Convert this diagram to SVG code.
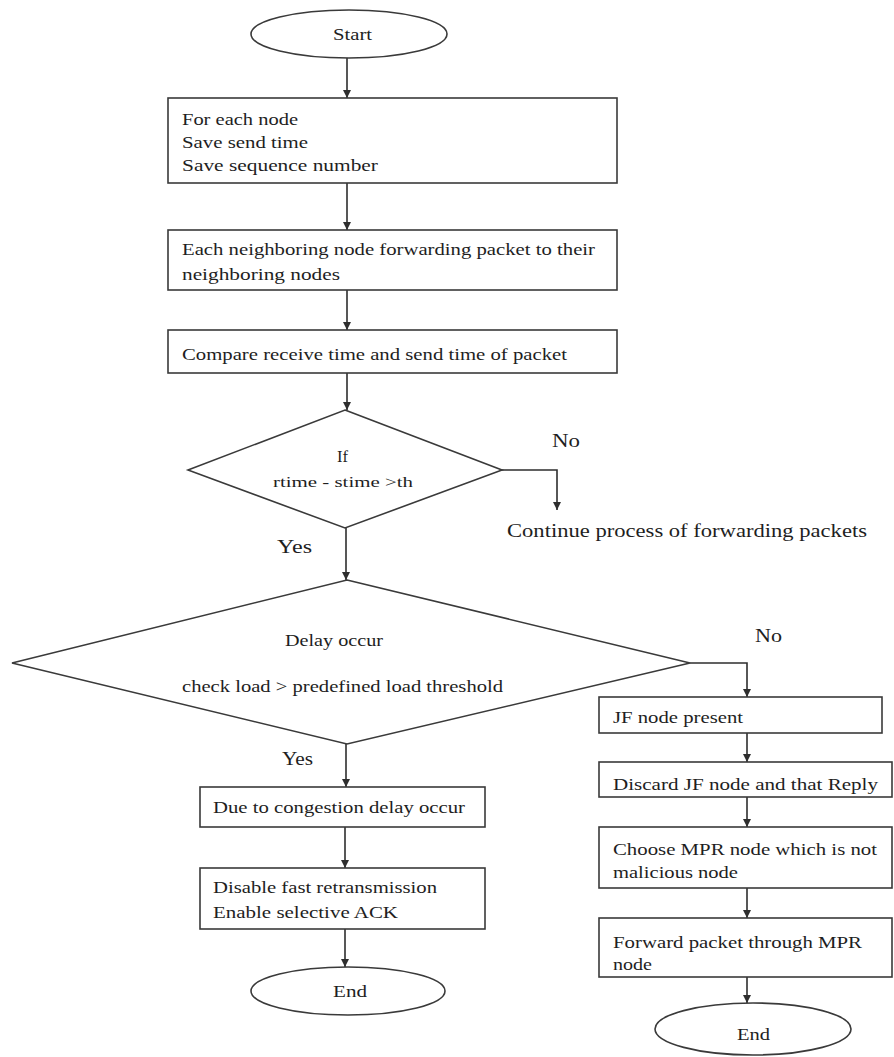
<svg xmlns="http://www.w3.org/2000/svg" width="894" height="1057" viewBox="0 0 894 1057">
  <style>
    .shape { fill: #ffffff; stroke: #3a3a3a; stroke-width: 1.6; }
    .link { fill: none; stroke: #2e2e2e; stroke-width: 1.6; }
    text { font-family: "Liberation Serif", "Times New Roman", serif; font-size: 17px; fill: #1e1e1e; }
    .small { font-size: 14px; }
    .label { font-size: 18px; }
  </style>
  <defs>
    <marker id="arrow" viewBox="0 0 10 10" refX="10" refY="5" markerWidth="8" markerHeight="9" markerUnits="userSpaceOnUse" orient="auto">
      <path d="M0,0 L10,5 L0,10 Z" fill="#2e2e2e"/>
    </marker>
  </defs>
  <rect width="894" height="1057" fill="#ffffff"/>

  <!-- connectors -->
  <g id="connectors">
    <path class="link" marker-end="url(#arrow)" d="M347,58 V98"/>
    <path class="link" marker-end="url(#arrow)" d="M347,183 V230"/>
    <path class="link" marker-end="url(#arrow)" d="M347,290 V330"/>
    <path class="link" marker-end="url(#arrow)" d="M347,373 V410"/>
    <path class="link" marker-end="url(#arrow)" d="M502,470 H557 V510"/>
    <path class="link" marker-end="url(#arrow)" d="M346,528 V580"/>
    <path class="link" marker-end="url(#arrow)" d="M690,663 H747 V697"/>
    <path class="link" marker-end="url(#arrow)" d="M346,744 V787"/>
    <path class="link" marker-end="url(#arrow)" d="M345,827 V868"/>
    <path class="link" marker-end="url(#arrow)" d="M345,929 V967"/>
    <path class="link" marker-end="url(#arrow)" d="M747,733 V762"/>
    <path class="link" marker-end="url(#arrow)" d="M747,797 V827"/>
    <path class="link" marker-end="url(#arrow)" d="M747,888 V918"/>
    <path class="link" marker-end="url(#arrow)" d="M747,977 V1003"/>
  </g>

  <g id="start">
    <ellipse class="shape" cx="349" cy="34" rx="98" ry="24"/>
    <text x="333" y="40" textLength="39" lengthAdjust="spacingAndGlyphs">Start</text>
  </g>

  <g id="save-info">
    <rect class="shape" x="168" y="98" width="449" height="85"/>
    <text x="182" y="125" textLength="116" lengthAdjust="spacingAndGlyphs">For each node</text>
    <text x="182" y="148" textLength="126" lengthAdjust="spacingAndGlyphs">Save send time</text>
    <text x="182" y="171" textLength="196" lengthAdjust="spacingAndGlyphs">Save sequence number</text>
  </g>

  <g id="forwarding">
    <rect class="shape" x="168" y="230" width="449" height="60"/>
    <text x="182" y="255" textLength="413" lengthAdjust="spacingAndGlyphs">Each neighboring node forwarding packet to their</text>
    <text x="182" y="280" textLength="158" lengthAdjust="spacingAndGlyphs">neighboring nodes</text>
  </g>

  <g id="compare">
    <rect class="shape" x="168" y="330" width="449" height="43"/>
    <text x="182" y="360" textLength="385" lengthAdjust="spacingAndGlyphs">Compare receive time and send time of packet</text>
  </g>

  <g id="threshold-check">
    <polygon class="shape" points="345,410 502,470 345,528 188,470"/>
    <text x="337" y="462" textLength="11" lengthAdjust="spacingAndGlyphs">If</text>
    <text class="small" x="273" y="487" textLength="140" lengthAdjust="spacingAndGlyphs">rtime - stime &gt;th</text>
    <text class="label" x="552" y="447" textLength="28" lengthAdjust="spacingAndGlyphs">No</text>
    <text class="label" x="277" y="553" textLength="35" lengthAdjust="spacingAndGlyphs">Yes</text>
  </g>

  <g id="continue">
    <text class="label" x="507" y="537" textLength="360" lengthAdjust="spacingAndGlyphs">Continue process of forwarding packets</text>
  </g>

  <g id="load-check">
    <polygon class="shape" points="347,580 690,663 347,744 12,663"/>
    <text x="285" y="646" textLength="98" lengthAdjust="spacingAndGlyphs">Delay occur</text>
    <text x="182" y="692" textLength="321" lengthAdjust="spacingAndGlyphs">check load &gt; predefined load threshold</text>
    <text class="label" x="755" y="642" textLength="27" lengthAdjust="spacingAndGlyphs">No</text>
    <text class="label" x="282" y="765" textLength="31" lengthAdjust="spacingAndGlyphs">Yes</text>
  </g>

  <g id="congestion">
    <rect class="shape" x="200" y="787" width="285" height="40"/>
    <text x="213" y="813" textLength="252" lengthAdjust="spacingAndGlyphs">Due to congestion delay occur</text>
  </g>

  <g id="retransmission">
    <rect class="shape" x="200" y="868" width="285" height="61"/>
    <text x="213" y="893" textLength="224" lengthAdjust="spacingAndGlyphs">Disable fast retransmission</text>
    <text x="213" y="918" textLength="185" lengthAdjust="spacingAndGlyphs">Enable selective ACK</text>
  </g>

  <g id="end-left">
    <ellipse class="shape" cx="348" cy="991" rx="97" ry="24"/>
    <text x="333" y="997" textLength="34" lengthAdjust="spacingAndGlyphs">End</text>
  </g>

  <g id="jf-present">
    <rect class="shape" x="599" y="697" width="283" height="36"/>
    <text x="613" y="723" textLength="130" lengthAdjust="spacingAndGlyphs">JF node present</text>
  </g>

  <g id="discard">
    <rect class="shape" x="599" y="762" width="293" height="35"/>
    <text x="613" y="790" textLength="265" lengthAdjust="spacingAndGlyphs">Discard JF node and that Reply</text>
  </g>

  <g id="choose-mpr">
    <rect class="shape" x="599" y="827" width="293" height="61"/>
    <text x="613" y="855" textLength="264" lengthAdjust="spacingAndGlyphs">Choose MPR node which is not</text>
    <text x="613" y="878" textLength="125" lengthAdjust="spacingAndGlyphs">malicious node</text>
  </g>

  <g id="forward-mpr">
    <rect class="shape" x="599" y="918" width="293" height="59"/>
    <text x="613" y="948" textLength="249" lengthAdjust="spacingAndGlyphs">Forward packet through MPR</text>
    <text x="613" y="970" textLength="39" lengthAdjust="spacingAndGlyphs">node</text>
  </g>

  <g id="end-right">
    <ellipse class="shape" cx="753" cy="1029" rx="98" ry="26"/>
    <text x="737" y="1040" textLength="33" lengthAdjust="spacingAndGlyphs">End</text>
  </g>
</svg>
